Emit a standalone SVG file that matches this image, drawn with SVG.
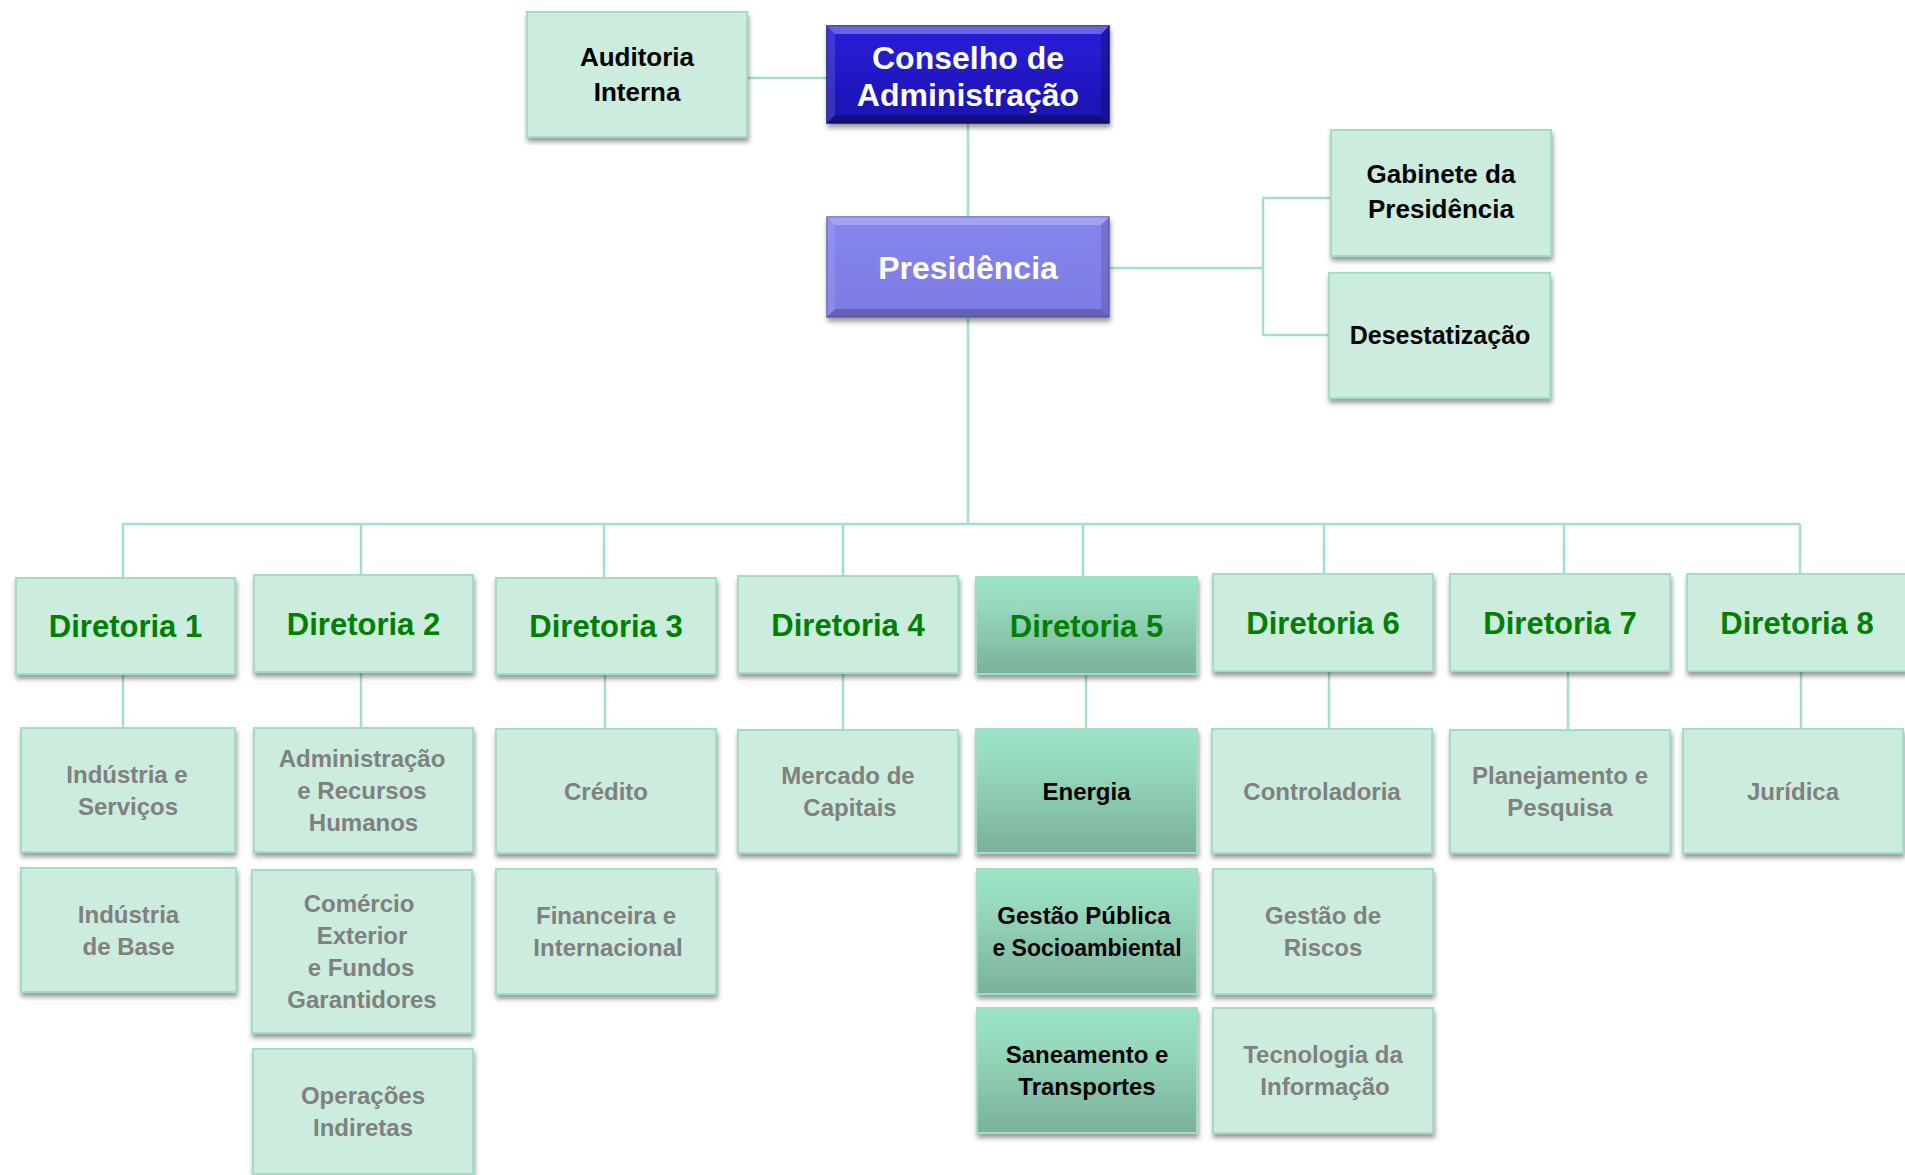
<svg xmlns="http://www.w3.org/2000/svg" width="1905" height="1175" viewBox="0 0 1905 1175">
<defs>
  <filter id="sh" x="-10%" y="-10%" width="125%" height="130%">
    <feDropShadow dx="1" dy="4" stdDeviation="2.5" flood-color="#000" flood-opacity="0.4"/>
  </filter>
  <linearGradient id="g5" x1="0" y1="0" x2="0" y2="1">
    <stop offset="0" stop-color="#9DE4C6"/>
    <stop offset="0.3" stop-color="#96D9BC"/>
    <stop offset="1" stop-color="#7AB198"/>
  </linearGradient>
  <linearGradient id="gc" x1="0" y1="0" x2="0" y2="1">
    <stop offset="0" stop-color="#2A20DA"/>
    <stop offset="1" stop-color="#1A12B0"/>
  </linearGradient>
  <linearGradient id="gp" x1="0" y1="0" x2="0" y2="1">
    <stop offset="0" stop-color="#8585EE"/>
    <stop offset="1" stop-color="#7C7CE4"/>
  </linearGradient>
</defs>
<style>
  .box { fill:#CCECDD; stroke:#A2DEC5; stroke-width:2; filter:url(#sh); }
  .hl { fill:url(#g5); stroke:#A2DEC5; stroke-width:2; filter:url(#sh); }
  .t { font-family:"Liberation Sans", Arial, sans-serif; font-weight:bold; text-anchor:middle; }
  .dir { font-size:31px; fill:#008000; }
  .gray { font-size:24px; fill:#808080; }
  .blk { font-size:24px; fill:#000000; }
  .side { font-size:26px; fill:#000000; }
  .wh { font-size:32px; fill:#FFFFFF; }
  .conn line { stroke:#A6DEC8; stroke-width:2.5; fill:none; }
  .bl { fill:#FFFFFF; }
  .bd { fill:#000000; }
</style>

<g id="connectors" class="conn">
  <line x1="747" y1="78" x2="827" y2="78"/>
  <line x1="968" y1="123" x2="968" y2="217"/>
  <line x1="1109" y1="268" x2="1263" y2="268"/>
  <line x1="1263" y1="198" x2="1263" y2="335"/>
  <line x1="1262" y1="198" x2="1331" y2="198"/>
  <line x1="1262" y1="335" x2="1329" y2="335"/>
  <line x1="968" y1="317" x2="968" y2="524"/>
  <line x1="122" y1="524" x2="1800" y2="524"/>
  <line x1="123" y1="524" x2="123" y2="578"/>
  <line x1="361" y1="524" x2="361" y2="575"/>
  <line x1="604" y1="524" x2="604" y2="578"/>
  <line x1="843" y1="524" x2="843" y2="576"/>
  <line x1="1083" y1="524" x2="1083" y2="577"/>
  <line x1="1324" y1="524" x2="1324" y2="574"/>
  <line x1="1564" y1="524" x2="1564" y2="574"/>
  <line x1="1800" y1="524" x2="1800" y2="574"/>
  <line x1="123" y1="674" x2="123" y2="728"/>
  <line x1="361" y1="672" x2="361" y2="728"/>
  <line x1="605" y1="674" x2="605" y2="729"/>
  <line x1="843" y1="673" x2="843" y2="730"/>
  <line x1="1086" y1="674" x2="1086" y2="729"/>
  <line x1="1329" y1="671" x2="1329" y2="729"/>
  <line x1="1568" y1="671" x2="1568" y2="730"/>
  <line x1="1801" y1="671" x2="1801" y2="729"/>
</g>

<g id="auditoria">
  <rect class="box" x="527" y="12" width="220" height="125"/>
  <text class="t side" x="637" y="66">Auditoria</text>
  <text class="t side" x="637" y="101">Interna</text>
</g>

<g id="conselho">
  <rect x="827" y="26" width="282" height="97" fill="url(#gc)" stroke="#14108A" stroke-width="1.5" filter="url(#sh)"/>
  <polygon class="bl" opacity="0.3" points="827,26 1109,26 1101,34 835,34"/>
  <polygon class="bl" opacity="0.12" points="827,26 835,34 835,115 827,123"/>
  <polygon class="bd" opacity="0.18" points="1109,26 1101,34 1101,115 1109,123"/>
  <polygon class="bd" opacity="0.3" points="827,123 835,115 1101,115 1109,123"/>
  <text class="t wh" x="968" y="69">Conselho de</text>
  <text class="t wh" x="968" y="106">Administração</text>
</g>

<g id="presidencia">
  <rect x="827" y="217" width="282" height="100" fill="url(#gp)" stroke="#6464C0" stroke-width="1.5" filter="url(#sh)"/>
  <polygon class="bl" opacity="0.25" points="827,217 1109,217 1101,225 835,225"/>
  <polygon class="bl" opacity="0.1" points="827,217 835,225 835,309 827,317"/>
  <polygon class="bd" opacity="0.12" points="1109,217 1101,225 1101,309 1109,317"/>
  <polygon class="bd" opacity="0.2" points="827,317 835,309 1101,309 1109,317"/>
  <text class="t wh" x="968" y="279">Presidência</text>
</g>

<g id="gabinete">
  <rect class="box" x="1331" y="130" width="220" height="126"/>
  <text class="t side" x="1441" y="183">Gabinete da</text>
  <text class="t side" x="1441" y="218">Presidência</text>
</g>

<g id="desestatizacao">
  <rect class="box" x="1329" y="273" width="221" height="125"/>
  <text class="t side" x="1440" y="344" style="font-size:25px">Desestatização</text>
</g>

<g id="diretoria1">
  <rect class="box" x="16" y="578" width="219" height="96"/>
  <text class="t dir" x="125.5" y="637">Diretoria 1</text>
</g>
<g id="diretoria2">
  <rect class="box" x="254" y="575" width="219" height="97"/>
  <text class="t dir" x="363.5" y="634.5">Diretoria 2</text>
</g>
<g id="diretoria3">
  <rect class="box" x="496" y="578" width="220" height="96"/>
  <text class="t dir" x="606" y="637">Diretoria 3</text>
</g>
<g id="diretoria4">
  <rect class="box" x="738" y="576" width="220" height="97"/>
  <text class="t dir" x="848" y="635.5">Diretoria 4</text>
</g>
<g id="diretoria5">
  <rect class="hl" x="976" y="577" width="221" height="97"/>
  <text class="t dir" x="1086.5" y="636.5">Diretoria 5</text>
</g>
<g id="diretoria6">
  <rect class="box" x="1213" y="574" width="220" height="97"/>
  <text class="t dir" x="1323" y="633.5">Diretoria 6</text>
</g>
<g id="diretoria7">
  <rect class="box" x="1450" y="574" width="220" height="97"/>
  <text class="t dir" x="1560" y="633.5">Diretoria 7</text>
</g>
<g id="diretoria8">
  <rect class="box" x="1687" y="574" width="220" height="97"/>
  <text class="t dir" x="1797" y="633.5">Diretoria 8</text>
</g>

<g id="industria-servicos">
  <rect class="box" x="21" y="728" width="214" height="124"/>
  <text class="t gray" x="127" y="782.5">Indústria e</text>
  <text class="t gray" x="128" y="814.5">Serviços</text>
</g>
<g id="industria-base">
  <rect class="box" x="21" y="868" width="215" height="124"/>
  <text class="t gray" x="128.5" y="922.5">Indústria</text>
  <text class="t gray" x="128.5" y="954.5">de Base</text>
</g>
<g id="administracao-rh">
  <rect class="box" x="254" y="728" width="219" height="124"/>
  <text class="t gray" x="362" y="766.5">Administração</text>
  <text class="t gray" x="362" y="798.5">e Recursos</text>
  <text class="t gray" x="363.5" y="830.5">Humanos</text>
</g>
<g id="comercio-exterior">
  <rect class="box" x="252" y="870" width="220" height="163"/>
  <text class="t gray" x="359" y="912">Comércio</text>
  <text class="t gray" x="362" y="944">Exterior</text>
  <text class="t gray" x="361" y="976">e Fundos</text>
  <text class="t gray" x="362" y="1008">Garantidores</text>
</g>
<g id="operacoes-indiretas">
  <rect class="box" x="253" y="1049" width="220" height="125"/>
  <text class="t gray" x="363" y="1104">Operações</text>
  <text class="t gray" x="363" y="1136">Indiretas</text>
</g>
<g id="credito">
  <rect class="box" x="496" y="729" width="220" height="124"/>
  <text class="t gray" x="606" y="799.5">Crédito</text>
</g>
<g id="financeira-internacional">
  <rect class="box" x="496" y="869" width="220" height="125"/>
  <text class="t gray" x="606" y="923.5">Financeira e</text>
  <text class="t gray" x="608" y="955.5">Internacional</text>
</g>
<g id="mercado-capitais">
  <rect class="box" x="738" y="730" width="220" height="123"/>
  <text class="t gray" x="848" y="783.5">Mercado de</text>
  <text class="t gray" x="850" y="815.5">Capitais</text>
</g>
<g id="energia">
  <rect class="hl" x="976" y="729" width="221" height="124"/>
  <text class="t blk" x="1086.5" y="799.5">Energia</text>
</g>
<g id="gestao-publica">
  <rect class="hl" x="977" y="869" width="220" height="125"/>
  <text class="t blk" x="1084" y="923.5">Gestão Pública</text>
  <text class="t blk" x="1087" y="955.5" style="font-size:23px">e Socioambiental</text>
</g>
<g id="saneamento-transportes">
  <rect class="hl" x="977" y="1008" width="220" height="125"/>
  <text class="t blk" x="1087" y="1062.5">Saneamento e</text>
  <text class="t blk" x="1087" y="1094.5">Transportes</text>
</g>
<g id="controladoria">
  <rect class="box" x="1212" y="729" width="220" height="124"/>
  <text class="t gray" x="1322" y="799.5">Controladoria</text>
</g>
<g id="gestao-riscos">
  <rect class="box" x="1213" y="869" width="220" height="125"/>
  <text class="t gray" x="1323" y="923.5">Gestão de</text>
  <text class="t gray" x="1323" y="955.5">Riscos</text>
</g>
<g id="tecnologia-informacao">
  <rect class="box" x="1213" y="1008" width="220" height="125"/>
  <text class="t gray" x="1323" y="1062.5">Tecnologia da</text>
  <text class="t gray" x="1325" y="1094.5">Informação</text>
</g>
<g id="planejamento-pesquisa">
  <rect class="box" x="1450" y="730" width="220" height="123"/>
  <text class="t gray" x="1560" y="783.5">Planejamento e</text>
  <text class="t gray" x="1560" y="815.5">Pesquisa</text>
</g>
<g id="juridica">
  <rect class="box" x="1683" y="729" width="220" height="124"/>
  <text class="t gray" x="1793" y="799.5">Jurídica</text>
</g>
</svg>
